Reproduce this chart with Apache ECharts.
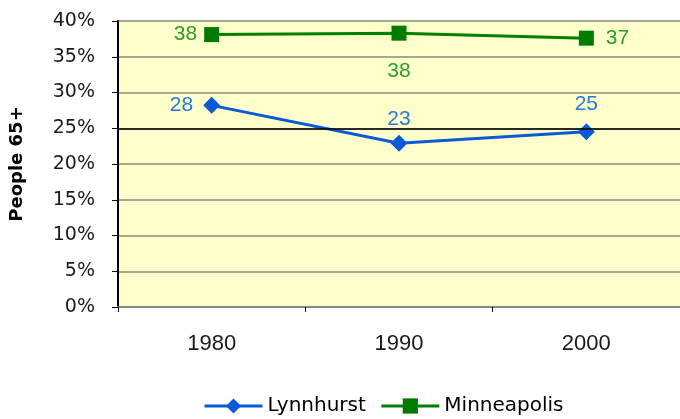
<!DOCTYPE html>
<html><head><meta charset="utf-8">
<script src="https://cdn.jsdelivr.net/npm/echarts@6/dist/echarts.min.js"></script>
<style>html,body{margin:0;padding:0;background:#fff}#c{width:680px;height:419px}</style>
</head><body><div id="c"></div>
<script>
const categories = ['1980', '1990', '2000'];
const lynnhurst = [28.2, 22.9, 24.5];
const minneapolis = [38.1, 38.3, 37.6];
const lynnLabels = ['28', '23', '25'];
const minnLabels = ['38', '38', '37'];
const lynnPos = ['left', 'top', 'top'];
const minnPos = ['left', 'bottom', 'right'];
const lynnDist = [10, 5, 9];
const minnDist = [7, 20, 12];

const chart = echarts.init(document.getElementById('c'), null, {renderer: 'canvas'});
const arial = '"Liberation Sans", Arial, sans-serif';
const wide = '"DejaVu Sans", sans-serif';
chart.setOption({
  animation: false,
  grid: {left: 118, top: 21, width: 567, height: 286, show: true, backgroundColor: '#ffffcc', borderWidth: 0},
  xAxis: {
    type: 'category', data: categories, boundaryGap: true,
    axisLine: {lineStyle: {color: '#888', width: 2}},
    axisTick: {show: true, length: 5, lineStyle: {color: '#000'}},
    axisLabel: {color: '#1a1a1a', fontSize: 22, fontFamily: arial, margin: 26}
  },
  yAxis: {
    type: 'value', min: 0, max: 40, interval: 5,
    name: 'People 65+', nameLocation: 'middle', nameGap: 92, nameRotate: 90,
    nameTextStyle: {color: '#000', fontSize: 18, fontFamily: wide, fontWeight: 'bold'},
    axisLine: {show: true, lineStyle: {color: '#000', width: 2}},
    axisTick: {show: true, length: 6, lineStyle: {color: '#000'}},
    axisLabel: {color: '#1a1a1a', fontSize: 19, fontFamily: wide, margin: 23, formatter: v => v + '%'},
    splitLine: {lineStyle: {color: '#8a8a80', width: 1.5}}
  },
  legend: {
    top: 391, left: 198, itemWidth: 58, itemHeight: 19, itemGap: 14,
    lineStyle: {width: 3},
    textStyle: {color: '#000', fontSize: 20, fontFamily: wide},
    data: ['Lynnhurst', 'Minneapolis']
  },
  series: [
    {
      name: 'Lynnhurst', type: 'line',
      data: lynnhurst.map((v, i) => ({value: v, label: {position: lynnPos[i], distance: lynnDist[i]}})),
      symbol: 'diamond', symbolSize: 17,
      lineStyle: {color: '#0a5ad6', width: 3},
      itemStyle: {color: '#0a5ad6'},
      label: {
        show: true, fontSize: 21, fontFamily: arial, color: '#2a78d8',
        formatter: p => lynnLabels[p.dataIndex]
      },
      markLine: {
        silent: true, symbol: 'none', label: {show: false},
        lineStyle: {color: '#000', width: 1.5, type: 'solid'},
        data: [{yAxis: 25}]
      }
    },
    {
      name: 'Minneapolis', type: 'line',
      data: minneapolis.map((v, i) => ({value: v, label: {position: minnPos[i], distance: minnDist[i]}})),
      symbol: 'rect', symbolSize: 15,
      lineStyle: {color: '#008000', width: 3},
      itemStyle: {color: '#007a00'},
      label: {
        show: true, fontSize: 21, fontFamily: arial, color: '#2f9a2f',
        formatter: p => minnLabels[p.dataIndex]
      }
    }
  ]
});
</script></body></html>
